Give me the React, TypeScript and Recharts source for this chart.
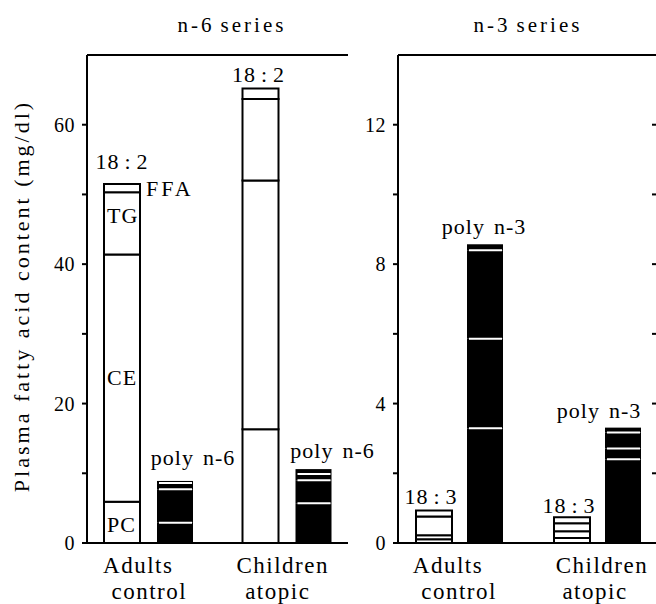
import React from "react";
import { BarChart, Bar, XAxis, YAxis, ReferenceLine, LabelList } from "recharts";

const FONT = "Liberation Serif, DejaVu Serif, Times New Roman, serif";

const groupNames = ["Adults", "Children"];
const groupSubNames = ["control", "atopic"];
const lipidClasses = ["PC", "CE", "TG", "FFA"];

// mg/dl, one value per lipid class (PC, CE, TG, FFA), bottom to top
const adultsLinoleic = [5.9, 35.5, 8.9, 1.2];
const childrenLinoleic = [16.3, 35.7, 11.7, 1.5];
const adultsPolyN6 = [2.9, 4.8, 0.9, 0.3];
const childrenPolyN6 = [5.7, 3.3, 0.9, 0.7];
const adultsLinolenic = [0.11, 0.11, 0.54, 0.17];
const childrenLinolenic = [0.14, 0.2, 0.23, 0.17];
const adultsPolyN3 = [3.29, 2.57, 2.54, 0.17];
const childrenPolyN3 = [2.4, 0.31, 0.46, 0.14];

const n6Ticks = [0, 10, 20, 30, 40, 50, 60];
const n3Ticks = [0, 2, 4, 6, 8, 10, 12];

function buildRows(white: number[][], black: number[][]) {
  return groupNames.map((name, i) => {
    const row: any = { name };
    lipidClasses.forEach((c, k) => {
      row["w" + c] = white[i][k];
      row["b" + c] = black[i][k];
    });
    return row;
  });
}

const n6Rows = buildRows([adultsLinoleic, childrenLinoleic], [adultsPolyN6, childrenPolyN6]);
const n3Rows = buildRows([adultsLinolenic, childrenLinolenic], [adultsPolyN3, childrenPolyN3]);

// where each stack label sits relative to the bar top (scan is not regular)
const linoleicPlace = [{ dx: 0, gap: 15 }, { dx: -2, gap: 6 }];
const polyN6Place = [{ dx: 18, gap: 16 }, { dx: 19, gap: 11 }];
const linolenicPlace = [{ dx: -3, gap: 7 }, { dx: -3, gap: 4 }];
const polyN3Place = [{ dx: -1, gap: 10 }, { dx: -24, gap: 10 }];
// horizontal nudges of the two lines under each group
const n6NamePlace = [[-10, 1], [-4, -9]];
const n3NamePlace = [[-11, 0], [5, -2]];

const txt = (size: number, spacing: number) => ({
  fontSize: size,
  fontFamily: FONT,
  letterSpacing: spacing,
  fill: "#000",
});

const box = (p: any) => {
  const v = p.viewBox ?? p;
  return { x: Number(v.x), y: Number(v.y), w: Number(v.width), h: Number(v.height) };
};

const stackLabel =
  (parts: [string, number][], place: { dx: number; gap: number }[], extra?: (p: any) => React.ReactNode) =>
  (p: any) => {
    const i = p.index ?? 0;
    const b = box(p);
    return (
      <g>
        <text x={b.x + b.w / 2 + place[i].dx} y={b.y - place[i].gap} textAnchor="middle" style={txt(22, 1)}>
          {parts.map(([t, dx], k) => (
            <tspan key={k} dx={dx}>
              {t}
            </tspan>
          ))}
        </text>
        {extra ? extra(p) : null}
      </g>
    );
  };

const ffaLabel = (p: any) => {
  if ((p.index ?? 0) !== 0) return null;
  const b = box(p);
  return (
    <text x={b.x + b.w + 6} y={b.y + 12} style={txt(22, 3)}>
      FFA
    </text>
  );
};

const innerShift: Record<string, number> = { PC: 10, CE: 7, TG: 0 };
const innerLabel = (name: string) => (p: any) => {
  if ((p.index ?? 0) !== 0) return null;
  const b = box(p);
  return (
    <text x={b.x + 3} y={b.y + b.h / 2 + innerShift[name]} style={txt(22, 1)}>
      {name}
    </text>
  );
};

const blackSegment = (k: number) => (p: any) => {
  const { x, y, width, height } = p;
  if (!height || height <= 0) return <g />;
  return (
    <g>
      <rect x={x} y={y} width={width} height={height} fill="#000" />
      {k > 0 && <line x1={x + 2} x2={x + width - 1} y1={y + height} y2={y + height} stroke="#fff" strokeWidth={2} />}
    </g>
  );
};

// short inward tick on the right frame edge
const rightTick = (p: any) => {
  const x2 = Math.max(Number(p.x1), Number(p.x2));
  const y = Number(p.y1);
  return <line x1={x2 - 5} x2={x2} y1={y} y2={y} stroke="#000" strokeWidth={2} />;
};

const GroupTick = (p: any) => {
  const i = Math.max(0, groupNames.indexOf(p.payload?.value));
  const [d1, d2] = p.place[i];
  return (
    <text x={p.x} y={p.y} textAnchor="middle" style={txt(23, 1.5)}>
      <tspan x={p.x + d1} dy={30}>
        {groupNames[i]}
      </tspan>
      <tspan x={p.x + d2} dy={26}>
        {groupSubNames[i]}
      </tspan>
    </text>
  );
};

const ValueTick = (p: any) => {
  const v = p.payload?.value;
  if (v % p.step !== 0) return <g />;
  return (
    <text x={p.x} y={p.y} dy={7} textAnchor="end" style={txt(20, 0.5)}>
      {String(v)}
    </text>
  );
};

const axisStroke = { stroke: "#000", strokeWidth: 2 };

function Panel({ rows, width, margin, max, ticks, step, padding, gap, namePlace, whiteLabel, blackLabel, withNames, rightAxis }: any) {
  return (
    <BarChart width={width} height={604} data={rows} margin={margin} barSize={36} barGap={gap}>
      <XAxis
        dataKey="name"
        axisLine={axisStroke}
        tickLine={false}
        tickSize={0}
        tickMargin={0}
        height={61}
        padding={padding}
        tick={<GroupTick place={namePlace} />}
        interval={0}
      />
      <YAxis
        domain={[0, max]}
        ticks={ticks}
        interval={0}
        allowDataOverflow
        width={60}
        axisLine={axisStroke}
        tickLine={axisStroke}
        tickSize={5}
        tickMargin={7}
        tick={<ValueTick step={step} />}
      />
      <ReferenceLine y={max} stroke="#000" strokeWidth={2} />
      {rightAxis &&
        ticks
          .filter((t: number) => t > 0)
          .map((t: number) => <ReferenceLine key={"rt" + t} y={t} shape={rightTick} />)}
      {lipidClasses.map((c, k) => (
        <Bar key={"w" + c} dataKey={"w" + c} stackId="white" fill="#fff" stroke="#000" strokeWidth={2} isAnimationActive={false}>
          {k === 3 && <LabelList content={whiteLabel} />}
          {withNames && k < 3 && <LabelList content={innerLabel(c)} />}
        </Bar>
      ))}
      {lipidClasses.map((c, k) => (
        <Bar key={"b" + c} dataKey={"b" + c} stackId="black" fill="#000" shape={blackSegment(k)} isAnimationActive={false}>
          {k === 3 && <LabelList content={blackLabel} />}
        </Bar>
      ))}
    </BarChart>
  );
}

export default function App() {
  return (
    <div style={{ position: "absolute", left: 0, top: 0, width: 656, height: 604, overflow: "hidden", background: "#fff", fontFamily: FONT }}>
      <div style={{ position: "absolute", left: 0, top: 0 }}>
        <Panel
          rows={n6Rows}
          width={656}
          margin={{ top: 55, right: 308, bottom: 0, left: 27 }}
          max={70}
          ticks={n6Ticks}
          step={20}
          padding={{ left: -8, right: -8 }}
          gap={17}
          namePlace={n6NamePlace}
          withNames
          whiteLabel={stackLabel([["18", 0], [":", 5], ["2", 5]], linoleicPlace, ffaLabel)}
          blackLabel={stackLabel([["poly", 0], ["n-6", 9]], polyN6Place)}
        />
      </div>
      <div style={{ position: "absolute", left: 0, top: 0 }}>
        <Panel
          rows={n3Rows}
          width={657}
          margin={{ top: 55, right: 0, bottom: 0, left: 338 }}
          max={14}
          ticks={n3Ticks}
          step={4}
          padding={{ left: -8, right: -9 }}
          gap={15}
          namePlace={n3NamePlace}
          rightAxis
          whiteLabel={stackLabel([["18", 0], [":", 5], ["3", 5]], linolenicPlace)}
          blackLabel={stackLabel([["poly", 0], ["n-3", 9]], polyN3Place)}
        />
      </div>
      <svg width={656} height={604} style={{ position: "absolute", left: 0, top: 0, pointerEvents: "none" }}>
        <text x={232} y={32} textAnchor="middle" style={txt(21, 3)}>
          n-6<tspan dx={6}>series</tspan>
        </text>
        <text x={528} y={32} textAnchor="middle" style={txt(21, 3)}>
          n-3<tspan dx={6}>series</tspan>
        </text>
        <text x={0} y={0} transform="translate(29 296) rotate(-90)" textAnchor="middle" style={txt(22, 3)}>
          Plasma fatty acid content (mg/dl)
        </text>
      </svg>
    </div>
  );
}
